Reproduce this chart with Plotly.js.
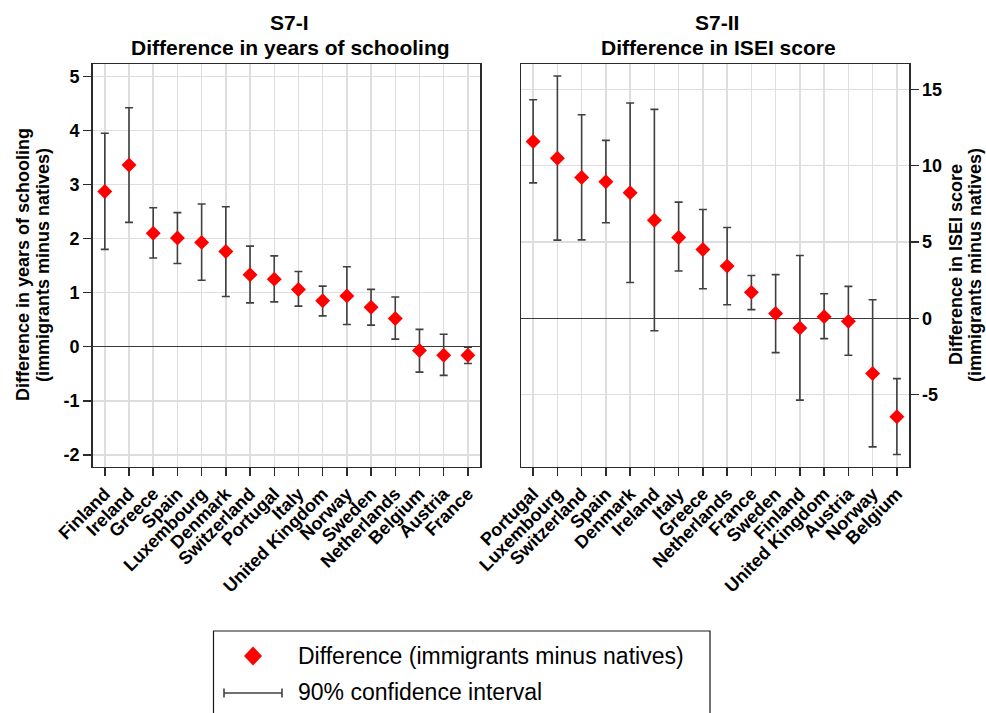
<!DOCTYPE html>
<html>
<head>
<meta charset="utf-8">
<script src="https://cdn.plot.ly/plotly-3.0.1.min.js"></script>
<style>
  html, body { margin: 0; padding: 0; background: #ffffff; }
  #chart { width: 986px; height: 713px; }
</style>
</head>
<body>
<div id="chart"></div>
<script>
// S7-I: difference in years of schooling, immigrants minus natives
const schoolCountries = ["Finland", "Ireland", "Greece", "Spain", "Luxembourg", "Denmark",
  "Switzerland", "Portugal", "Italy", "United Kingdom", "Norway", "Sweden",
  "Netherlands", "Belgium", "Austria", "France"];
const schoolDiff = [2.87, 3.36, 2.10, 2.01, 1.93, 1.76, 1.33, 1.25, 1.06, 0.85, 0.94, 0.73, 0.52, -0.07, -0.16, -0.16];
const schoolLow  = [1.80, 2.30, 1.64, 1.54, 1.23, 0.93, 0.81, 0.83, 0.75, 0.57, 0.41, 0.40, 0.14, -0.47, -0.53, -0.31];
const schoolHigh = [3.95, 4.42, 2.57, 2.48, 2.64, 2.59, 1.86, 1.68, 1.39, 1.12, 1.48, 1.06, 0.92, 0.32, 0.23, -0.01];

// S7-II: difference in ISEI score, immigrants minus natives
const iseiCountries = ["Portugal", "Luxembourg", "Switzerland", "Spain", "Denmark", "Ireland",
  "Italy", "Greece", "Netherlands", "France", "Sweden", "Finland",
  "United Kingdom", "Austria", "Norway", "Belgium"];
const iseiDiff = [11.58, 10.49, 9.22, 8.94, 8.22, 6.43, 5.30, 4.51, 3.42, 1.70, 0.31, -0.63, 0.11, -0.20, -3.62, -6.45];
const iseiLow  = [8.87, 5.12, 5.14, 6.26, 2.35, -0.81, 3.10, 1.94, 0.89, 0.57, -2.25, -5.36, -1.33, -2.42, -8.42, -8.92];
const iseiHigh = [14.32, 15.87, 13.34, 11.66, 14.11, 13.69, 7.61, 7.13, 5.95, 2.81, 2.86, 4.12, 1.61, 2.09, 1.22, -3.95];

const schoolTicks = [-2, -1, 0, 1, 2, 3, 4, 5];
const iseiTicks = [-5, 0, 5, 10, 15];

const legendLabels = ["Difference (immigrants minus natives)", "90% confidence interval"];

const RED = "#ff0000";
const BAR = "#404040";
const GRID = "#dedede";
const FRAME = "#2b2b2b";
const FONT = "Liberation Sans, Arial, sans-serif";

function pointTrace(cats, diff, low, high, xa, ya) {
  return {
    type: "scatter",
    mode: "markers",
    x: cats,
    y: diff,
    xaxis: xa,
    yaxis: ya,
    showlegend: false,
    hoverinfo: "x+y",
    marker: { symbol: "diamond", size: 11.5, color: RED, line: { width: 0 } },
    error_y: {
      type: "data",
      symmetric: false,
      array: high.map((h, i) => h - diff[i]),
      arrayminus: low.map((l, i) => diff[i] - l),
      color: BAR,
      thickness: 1.6,
      width: 4
    }
  };
}

const data = [
  pointTrace(schoolCountries, schoolDiff, schoolLow, schoolHigh, "x", "y"),
  pointTrace(iseiCountries, iseiDiff, iseiLow, iseiHigh, "x2", "y2")
];

const W = 986, H = 713;
const px = v => v / W;
const py = v => 1 - v / H;

const tickFont = { family: FONT, size: 18, color: "#000000", weight: "bold" };

function xAxis(domain, anchor) {
  return {
    domain: domain,
    anchor: anchor,
    type: "category",
    range: [-0.5, 15.5],
    showgrid: true,
    gridcolor: GRID,
    gridwidth: 1.5,
    showline: true,
    linecolor: FRAME,
    linewidth: 1.5,
    mirror: true,
    ticks: "outside",
    ticklen: 8,
    tickwidth: 1.5,
    tickcolor: FRAME,
    tickangle: -45,
    tickfont: tickFont,
    fixedrange: true
  };
}

function yAxis(domain, anchor, range, ticks, side) {
  return {
    domain: domain,
    anchor: anchor,
    side: side,
    range: range,
    tickmode: "array",
    tickvals: ticks,
    ticktext: ticks.map(String),
    showgrid: true,
    gridcolor: GRID,
    gridwidth: 1.5,
    zeroline: true,
    zerolinecolor: "#3a3a3a",
    zerolinewidth: 1.5,
    showline: true,
    linecolor: FRAME,
    linewidth: 1.5,
    mirror: true,
    ticks: "outside",
    ticklen: 8,
    tickwidth: 1.5,
    tickcolor: FRAME,
    tickfont: tickFont,
    fixedrange: true
  };
}

const yDom = [py(466.7), py(64)];

const titleFont = { family: FONT, size: 21, color: "#000000", weight: "bold" };
const axisTitleFont = { family: FONT, size: 18, color: "#000000", weight: "bold" };
const legendFont = { family: FONT, size: 23, color: "#000000" };

function note(text, x, y, font, extra) {
  return Object.assign({
    text: text, xref: "paper", yref: "paper", x: x, y: y,
    xanchor: "center", yanchor: "middle", showarrow: false, font: font
  }, extra || {});
}

const annotations = [
  note("S7-I", px(289), py(22.5), titleFont),
  note("Difference in years of schooling", px(290), py(47.5), titleFont),
  note("S7-II", px(717), py(22.5), titleFont),
  note("Difference in ISEI score", px(718), py(47.5), titleFont),
  note("Difference in years of schooling", px(23), py(265), axisTitleFont, { textangle: -90 }),
  note("(immigrants minus natives)", px(43), py(265), axisTitleFont, { textangle: -90 }),
  note("Difference in ISEI score", px(956), py(265), axisTitleFont, { textangle: -90 }),
  note("(immigrants minus natives)", px(975), py(265), axisTitleFont, { textangle: -90 }),
  note(legendLabels[0], px(296), py(656), legendFont, { xanchor: "left" }),
  note(legendLabels[1], px(296), py(692), legendFont, { xanchor: "left" })
];

// Legend frame and key glyphs
const dx = 9, dy = 9.5, cxD = 253, cyD = 656;
const lyC = 693;
const shapes = [
  { type: "rect", xref: "paper", yref: "paper",
    x0: px(213.5), x1: px(710), y0: py(720), y1: py(631),
    line: { color: "#1a1a1a", width: 1.2 }, fillcolor: "rgba(0,0,0,0)" },
  { type: "path", xref: "paper", yref: "paper",
    path: `M ${px(cxD)} ${py(cyD - dy)} L ${px(cxD + dx)} ${py(cyD)} L ${px(cxD)} ${py(cyD + dy)} L ${px(cxD - dx)} ${py(cyD)} Z`,
    fillcolor: RED, line: { width: 0 } },
  { type: "line", xref: "paper", yref: "paper",
    x0: px(224), x1: px(282), y0: py(lyC), y1: py(lyC),
    line: { color: BAR, width: 1.6 } },
  { type: "line", xref: "paper", yref: "paper",
    x0: px(224), x1: px(224), y0: py(lyC - 4.5), y1: py(lyC + 4.5),
    line: { color: BAR, width: 1.6 } },
  { type: "line", xref: "paper", yref: "paper",
    x0: px(282), x1: px(282), y0: py(lyC - 4.5), y1: py(lyC + 4.5),
    line: { color: BAR, width: 1.6 } }
];

const layout = {
  width: W,
  height: H,
  margin: { l: 0, r: 0, t: 0, b: 0 },
  paper_bgcolor: "#ffffff",
  plot_bgcolor: "#ffffff",
  showlegend: false,
  font: { family: FONT, color: "#000000" },
  xaxis: xAxis([px(92.7), px(480)], "y"),
  yaxis: yAxis(yDom, "x", [-2.22, 5.23], schoolTicks, "left"),
  xaxis2: xAxis([px(521), px(909)], "y2"),
  yaxis2: yAxis(yDom, "x2", [-9.72, 16.66], iseiTicks, "right"),
  annotations: annotations,
  shapes: shapes
};

Plotly.newPlot("chart", data, layout, { displayModeBar: false, staticPlot: true });
</script>
</body>
</html>
